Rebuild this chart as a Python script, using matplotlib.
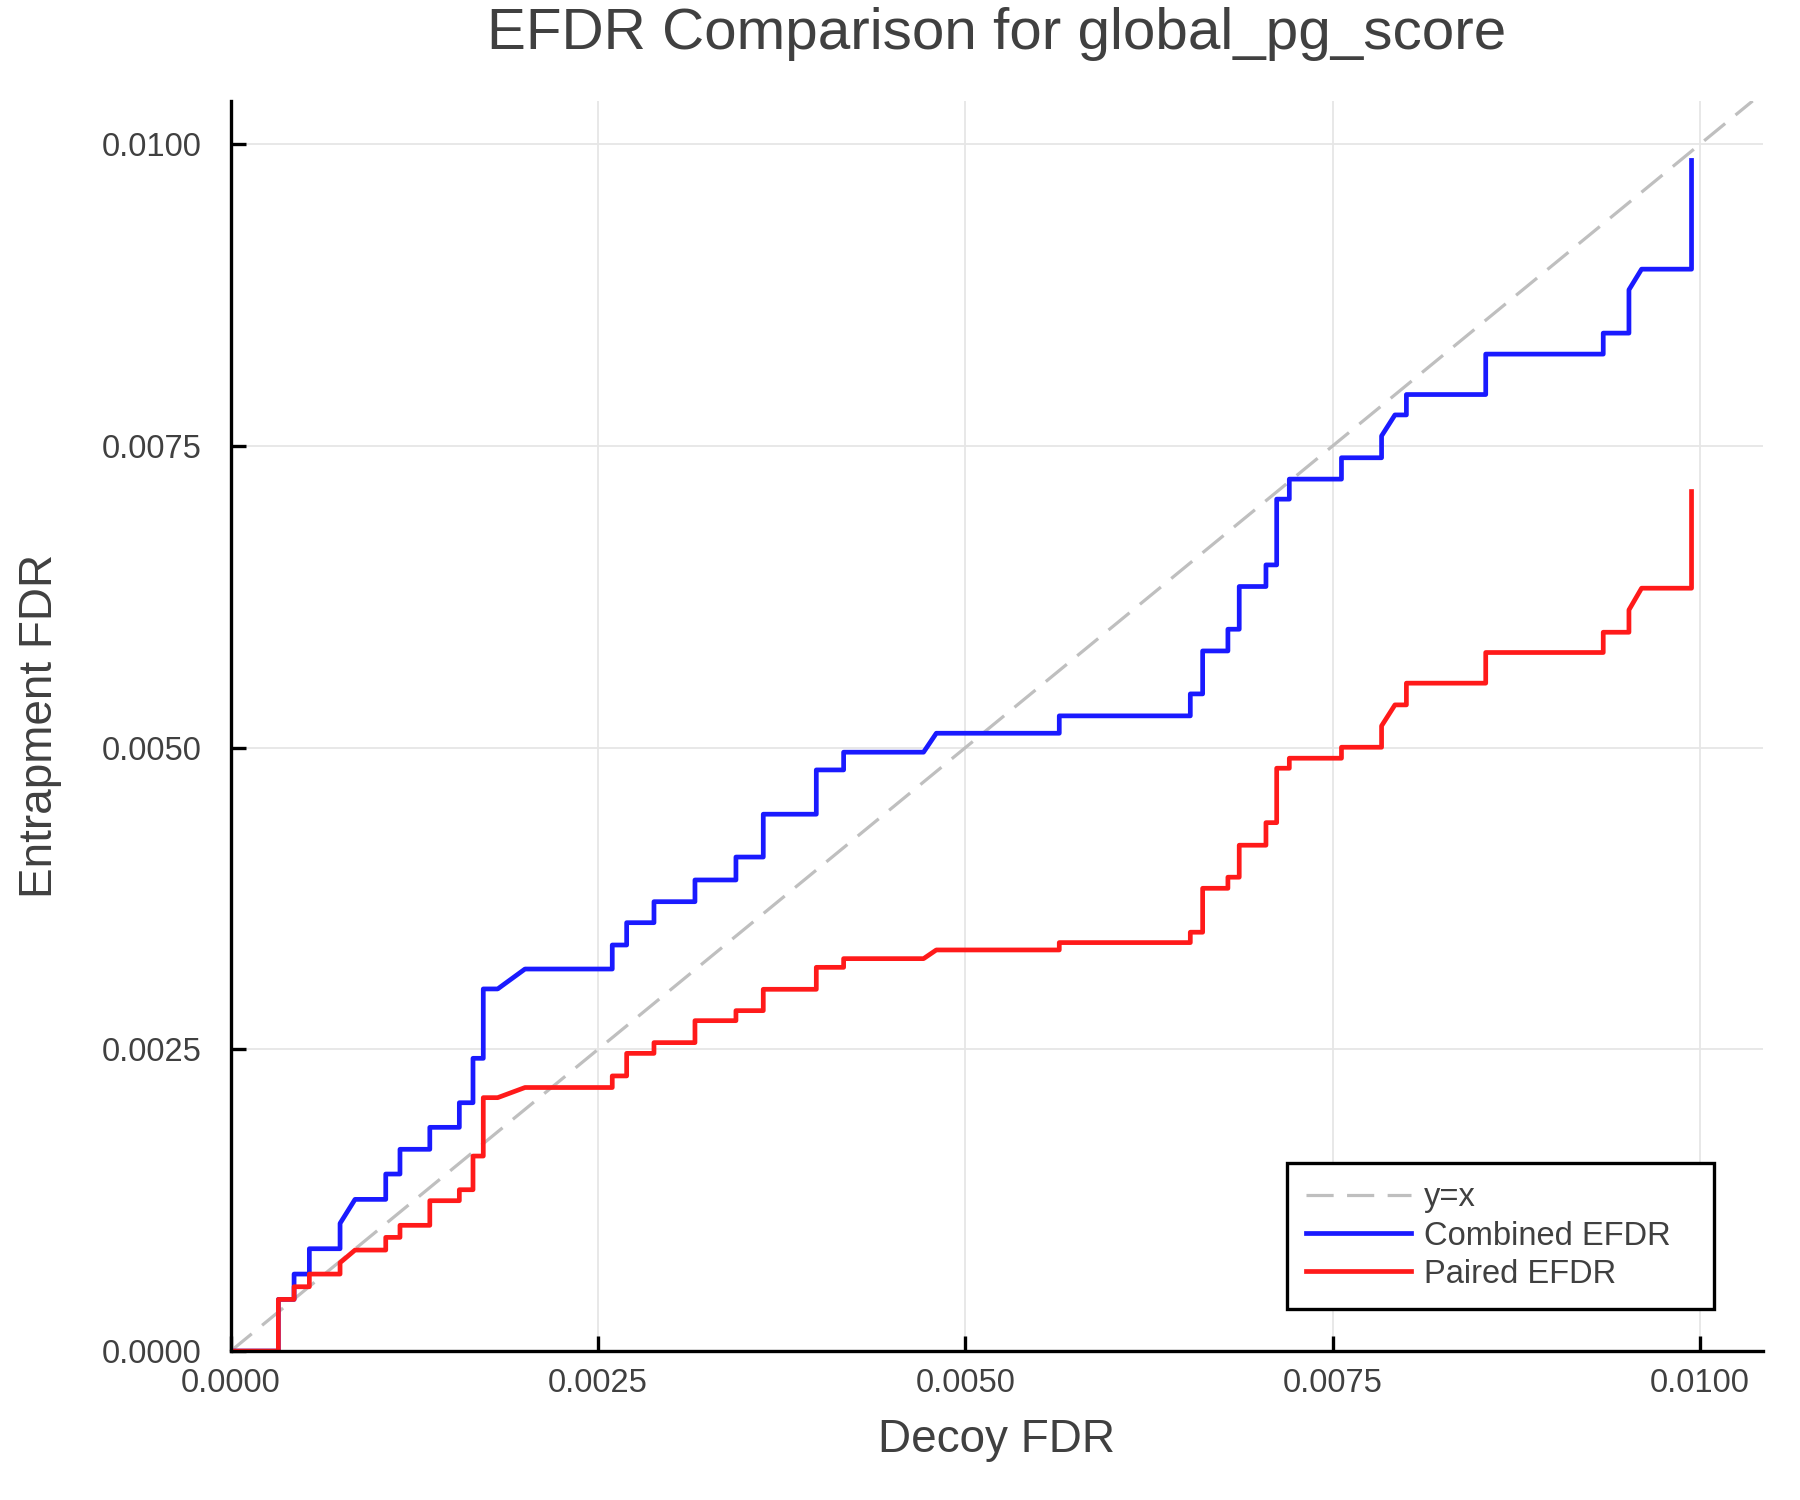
import matplotlib
matplotlib.use("Agg")
import matplotlib.pyplot as plt
from matplotlib.ticker import FormatStrFormatter

# values (vertices of the two curves, shared x)
decoy_fdr = [0.0, 0.000324, 0.000324, 0.000431, 0.000431, 0.000535, 0.000535,
             0.000744, 0.000744, 0.000846, 0.001055, 0.001055, 0.001152, 0.001152,
             0.001355, 0.001355, 0.001556, 0.001556, 0.001649, 0.001649, 0.001719,
             0.001719, 0.001817, 0.002003, 0.002597, 0.002597, 0.002695, 0.002695,
             0.002881, 0.002881, 0.00316, 0.00316, 0.003439, 0.003439, 0.003625,
             0.003625, 0.003986, 0.003986, 0.004172, 0.004172, 0.004716, 0.004803,
             0.00564, 0.00564, 0.006532, 0.006532, 0.006616, 0.006616, 0.006788,
             0.006788, 0.006865, 0.006865, 0.007047, 0.007047, 0.00712, 0.00712,
             0.007206, 0.007206, 0.007561, 0.007561, 0.007834, 0.007834, 0.007925,
             0.008003, 0.008003, 0.008543, 0.008543, 0.009343, 0.009343, 0.009518,
             0.009518, 0.009604, 0.009944, 0.009944]

combined_efdr = [0.0, 0.0, 0.000428, 0.000428, 0.000638, 0.000638, 0.000848,
                 0.000848, 0.001058, 0.001257, 0.001257, 0.001467, 0.001467, 0.001672,
                 0.001672, 0.001854, 0.001854, 0.002058, 0.002058, 0.002426, 0.002426,
                 0.003001, 0.003001, 0.003166, 0.003166, 0.003365, 0.003365, 0.00355,
                 0.00355, 0.003724, 0.003724, 0.003904, 0.003904, 0.004094, 0.004094,
                 0.004449, 0.004449, 0.004816, 0.004816, 0.004963, 0.004963, 0.00512,
                 0.00512, 0.005264, 0.005264, 0.005446, 0.005446, 0.005802, 0.005802,
                 0.005982, 0.005982, 0.006336, 0.006336, 0.006515, 0.006515, 0.00706,
                 0.00706, 0.007226, 0.007226, 0.007403, 0.007403, 0.007584, 0.007758,
                 0.007758, 0.007927, 0.007927, 0.008262, 0.008262, 0.008436, 0.008436,
                 0.008795, 0.008966, 0.008966, 0.009867]

paired_efdr = [0.0, 0.0, 0.000428, 0.000428, 0.000533, 0.000533, 0.000638,
               0.000638, 0.000732, 0.000837, 0.000837, 0.000942, 0.000942, 0.001042,
               0.001042, 0.001246, 0.001246, 0.001337, 0.001337, 0.001616, 0.001616,
               0.0021, 0.0021, 0.002184, 0.002184, 0.00228, 0.00228, 0.002467,
               0.002467, 0.002556, 0.002556, 0.002738, 0.002738, 0.002821, 0.002821,
               0.002998, 0.002998, 0.00318, 0.00318, 0.003252, 0.003252, 0.003324,
               0.003324, 0.003385, 0.003385, 0.003471, 0.003471, 0.003835, 0.003835,
               0.003927, 0.003927, 0.004192, 0.004192, 0.004379, 0.004379, 0.00483,
               0.00483, 0.004913, 0.004913, 0.005004, 0.005004, 0.005181, 0.005355,
               0.005355, 0.005535, 0.005535, 0.005789, 0.005789, 0.005957, 0.005957,
               0.006142, 0.006322, 0.006322, 0.007123]

tick_values = [0.0, 0.0025, 0.005, 0.0075, 0.01]

text_color = "#404040"
plt.rcParams["font.family"] = ["Liberation Sans", "DejaVu Sans"]

fig = plt.figure(figsize=(18, 15), dpi=100)
ax = fig.add_axes([0.1282, 0.0993, 0.8512, 0.8334])

ax.axline((0, 0), slope=1, color="#bfbfbf", lw=2.3, dashes=(8.5, 4.2), label="y=x")
ax.plot(decoy_fdr, combined_efdr, color="#1a1aff", lw=3.4, label="Combined EFDR")
ax.plot(decoy_fdr, paired_efdr, color="#ff1a1a", lw=3.4, label="Paired EFDR")

ax.set_xlim(0, 0.01043)
ax.set_ylim(0, 0.01036)
ax.set_xticks(tick_values)
ax.set_yticks(tick_values)
ax.xaxis.set_major_formatter(FormatStrFormatter("%.4f"))
ax.yaxis.set_major_formatter(FormatStrFormatter("%.4f"))
ax.grid(True, color="#e6e6e6", lw=1.3)
ax.set_axisbelow(True)

for side in ["top", "right"]:
    ax.spines[side].set_visible(False)
for side in ["left", "bottom"]:
    ax.spines[side].set_linewidth(2.4)
    ax.spines[side].set_color("black")

ax.tick_params(axis="both", direction="in", length=11, width=2.4, color="black",
               labelsize=23.5, labelcolor=text_color)
ax.tick_params(axis="x", pad=12)
ax.tick_params(axis="y", pad=21)

ax.set_xlabel("Decoy FDR", fontsize=33, color=text_color, va="center")
ax.set_ylabel("Entrapment FDR", fontsize=33, color=text_color, va="center")
ax.xaxis.set_label_coords(0.5, -0.0712)
ax.yaxis.set_label_coords(-0.1248, 0.5)

fig.text(0.5538, 1 - 33.7 / 1500, "EFDR Comparison for global_pg_score",
         fontsize=42, color=text_color, ha="center", va="center")

# legend box stretched to the reference width
leg = ax.legend(loc="lower left", bbox_to_anchor=(0.6893, 0.0334, 0.2785, 0.12),
                mode="expand", borderaxespad=0,
                fontsize=23.5, frameon=True, fancybox=False, framealpha=1,
                edgecolor="black", handlelength=3.2, handletextpad=0.4,
                labelspacing=0.22, borderpad=0.6)
leg.get_frame().set_linewidth(2.4)
for t in leg.get_texts():
    t.set_color(text_color)

fig.savefig("out.png", dpi=100, facecolor="white")
